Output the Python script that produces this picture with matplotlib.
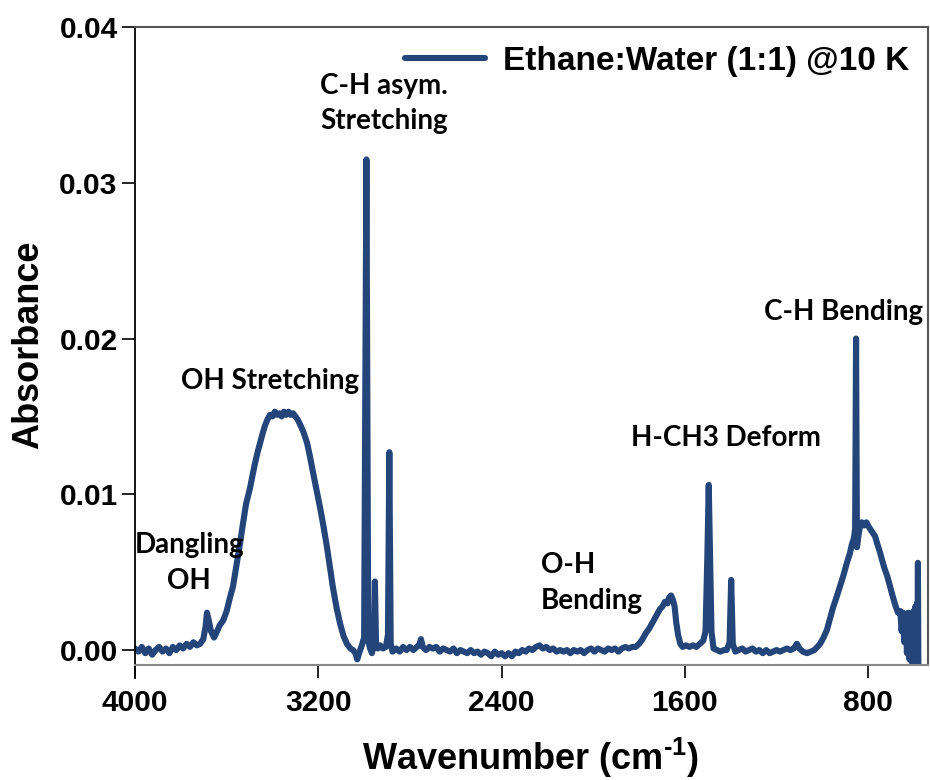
import numpy as np
import matplotlib
matplotlib.use("Agg")
import matplotlib.pyplot as plt
from matplotlib.ticker import FormatStrFormatter

plt.rcParams['font.family'] = ['Liberation Sans', 'DejaVu Sans']
plt.rcParams['mathtext.fontset'] = 'custom'
plt.rcParams['mathtext.bf'] = 'Liberation Sans:bold'
plt.rcParams['mathtext.rm'] = 'Liberation Sans:bold'

# IR spectrum of the ethane:water ice, read point by point (cm-1, absorbance)
wavenumber = [
    4000, 3985, 3970, 3955, 3940, 3925, 3910, 3895, 3880, 3865, 3850, 3835,
    3820, 3805, 3790, 3775, 3760, 3745, 3730, 3716, 3702, 3692, 3686, 3678,
    3668, 3655, 3645, 3630, 3615, 3600, 3585, 3572, 3560, 3550, 3540, 3529,
    3515, 3498, 3486, 3476, 3465, 3454, 3443, 3433, 3422, 3411, 3400, 3390,
    3380, 3370, 3360, 3350, 3340, 3330, 3320, 3310, 3300, 3290, 3280, 3265,
    3249, 3236, 3223, 3208, 3193, 3178, 3162, 3150, 3136, 3120, 3105, 3090,
    3075, 3060, 3049, 3038, 3030, 3022, 3010, 3000, 2990, 2982, 2974, 2966,
    2958, 2953, 2948, 2940, 2930, 2918, 2905, 2896, 2890, 2884, 2876, 2860,
    2845, 2830, 2815, 2800, 2785, 2770, 2760, 2752, 2744, 2730, 2715, 2700,
    2685, 2670, 2655, 2640, 2625, 2610, 2595, 2580, 2565, 2550, 2535, 2520,
    2505, 2490, 2475, 2460, 2445, 2430, 2415, 2400, 2385, 2370, 2355, 2340,
    2325, 2310, 2295, 2280, 2265, 2250, 2235, 2220, 2205, 2190, 2175, 2160,
    2145, 2130, 2115, 2100, 2085, 2070, 2055, 2040, 2025, 2010, 1995, 1980,
    1965, 1950, 1935, 1920, 1905, 1890, 1875, 1860, 1845, 1830, 1815, 1800,
    1785, 1770, 1755, 1740, 1725, 1710, 1698, 1687, 1676, 1668, 1660, 1652,
    1645, 1638, 1630, 1620, 1610, 1595, 1580, 1565, 1550, 1535, 1520, 1510,
    1502, 1496, 1490, 1484, 1475, 1460, 1445, 1430, 1418, 1405, 1398, 1391,
    1380, 1365, 1350, 1335, 1320, 1305, 1290, 1275, 1260, 1245, 1230, 1215,
    1200, 1185, 1170, 1155, 1140, 1125, 1111, 1100, 1085, 1067, 1050, 1035,
    1022, 1010, 995, 980, 967, 954, 938, 923, 908, 893, 880, 871,
    862, 857, 853, 849, 842, 835, 828, 818, 808, 797, 788, 779,
    770, 760, 749, 738, 728, 718, 705, 692, 680, 670, 660, 654,
    648, 642, 636, 631, 625, 620, 615, 609, 603, 598, 594, 590,
    587, 585, 583, 581,
]
absorbance = [
    0.0001, -0.0001, 0.0002, -0.0002, 0.0001, -0.0003, 0.0000, 0.0002, -0.0001, 0.0001, -0.0002, 0.0002,
    0.0000, 0.0003, 0.0001, 0.0004, 0.0002, 0.0005, 0.0003, 0.0004, 0.0007, 0.0015, 0.0024, 0.0019,
    0.0012, 0.0008, 0.0011, 0.0016, 0.0019, 0.0025, 0.0034, 0.0041, 0.0052, 0.0061, 0.0070, 0.0081,
    0.0094, 0.0104, 0.0113, 0.0120, 0.0127, 0.0133, 0.0139, 0.0144, 0.0148, 0.0151, 0.0150, 0.0153,
    0.0151, 0.0152, 0.0150, 0.0153, 0.0151, 0.0153, 0.0151, 0.0152, 0.0150, 0.0148, 0.0145, 0.0140,
    0.0133, 0.0124, 0.0114, 0.0103, 0.0092, 0.0080, 0.0066, 0.0054, 0.0040, 0.0027, 0.0017, 0.0009,
    0.0004, 0.0001, 0.0000, -0.0002, -0.0006, -0.0002, 0.0003, 0.0008, 0.0315, 0.0006, 0.0001, -0.0002,
    0.0003, 0.0044, 0.0004, 0.0001, 0.0003, 0.0001, 0.0002, 0.0010, 0.0127, 0.0004, -0.0001, 0.0001,
    -0.0001, 0.0002, 0.0000, 0.0002, 0.0000, 0.0002, 0.0003, 0.0007, 0.0002, 0.0000, 0.0002, 0.0001,
    0.0002, -0.0001, 0.0001, 0.0000, -0.0001, 0.0001, -0.0002, 0.0000, -0.0001, -0.0002, 0.0000, -0.0002,
    -0.0001, -0.0003, -0.0001, -0.0002, -0.0004, -0.0001, -0.0003, -0.0002, -0.0004, -0.0002, -0.0004, -0.0001,
    -0.0002, 0.0000, -0.0001, 0.0001, 0.0000, 0.0002, 0.0003, 0.0001, 0.0002, 0.0000, 0.0001, -0.0001,
    0.0000, -0.0001, 0.0000, -0.0002, 0.0000, -0.0001, 0.0000, -0.0002, 0.0000, 0.0001, -0.0001, 0.0001,
    0.0000, -0.0001, 0.0001, 0.0000, 0.0001, -0.0001, 0.0001, 0.0002, 0.0001, 0.0002, 0.0002, 0.0004,
    0.0007, 0.0011, 0.0014, 0.0018, 0.0022, 0.0026, 0.0028, 0.0031, 0.0030, 0.0034, 0.0035, 0.0032,
    0.0028, 0.0018, 0.0010, 0.0004, 0.0002, 0.0003, 0.0002, 0.0003, 0.0002, 0.0004, 0.0006, 0.0012,
    0.0060, 0.0106, 0.0060, 0.0012, 0.0001, 0.0000, -0.0001, 0.0000, 0.0000, 0.0005, 0.0045, 0.0004,
    -0.0001, 0.0000, 0.0001, -0.0001, 0.0000, 0.0001, -0.0001, 0.0000, -0.0002, 0.0000, -0.0002, -0.0001,
    0.0000, -0.0001, 0.0000, 0.0001, 0.0000, 0.0001, 0.0004, 0.0001, -0.0001, -0.0002, -0.0001, 0.0000,
    0.0002, 0.0004, 0.0008, 0.0013, 0.0020, 0.0027, 0.0034, 0.0041, 0.0048, 0.0056, 0.0062, 0.0068,
    0.0072, 0.0078, 0.0200, 0.0066, 0.0074, 0.0080, 0.0082, 0.0080, 0.0082, 0.0079, 0.0077, 0.0075,
    0.0073, 0.0068, 0.0063, 0.0057, 0.0052, 0.0048, 0.0041, 0.0034, 0.0028, 0.0024, 0.0025, 0.0012,
    0.0024, 0.0005, 0.0023, -0.0002, 0.0024, -0.0006, 0.0022, -0.0008, 0.0025, -0.0010, 0.0028, -0.0012,
    0.0030, -0.0010, 0.0056, -0.0012,
]

series_label = "Ethane:Water (1:1) @10 K"
x_ticks = [4000, 3200, 2400, 1600, 800]
y_ticks = [0.00, 0.01, 0.02, 0.03, 0.04]

# band assignments: text, wavenumber, absorbance, alignment
band_labels = ["C-H asym.\nStretching", "OH Stretching", "Dangling\nOH",
               "O-H\nBending", "H-CH3 Deform", "C-H Bending"]
band_x = [2913, 3411, 3764, 2228, 1421, 906]
band_y = [0.0351, 0.0173, 0.0056, 0.0043, 0.0136, 0.0217]
band_ha = ["center", "center", "center", "left", "center", "center"]

line_color = "#23457A"

fig = plt.figure(figsize=(9.3, 7.8), dpi=100)
ax = fig.add_axes([135 / 930, 115 / 780, 793 / 930, 638 / 780])

ax.plot(wavenumber, absorbance, color=line_color, lw=4.4,
        solid_joinstyle="round", solid_capstyle="round", label=series_label)

ax.set_xlim(4000, 539)
ax.set_ylim(-0.00096, 0.04)
ax.set_xticks(x_ticks)
ax.set_yticks(y_ticks)
ax.yaxis.set_major_formatter(FormatStrFormatter("%.2f"))

for lab, xx, yy, ha in zip(band_labels, band_x, band_y, band_ha):
    ax.text(xx, yy, lab, ha=ha, va="center", fontsize=20, family="Lato",
            fontweight="bold", linespacing=1.45)

ax.tick_params(direction="out", length=9.5, width=1.2, labelsize=21.5, pad=3)
ax.tick_params(axis="x", pad=8)
for t in ax.get_xticklabels() + ax.get_yticklabels():
    t.set_fontweight("bold")

ax.spines["left"].set_color("black")
ax.spines["left"].set_linewidth(1.3)
ax.spines["left"].set_bounds(-0.0018, 0.04)
ax.spines["top"].set_color("#555555")
ax.spines["right"].set_color("#555555")
ax.spines["bottom"].set_color("#888888")
for s in ["top", "right", "bottom"]:
    ax.spines[s].set_linewidth(1.5)

leg = ax.legend(loc="center left", bbox_to_anchor=(0.3405, 0.9467), frameon=False,
                borderpad=0, borderaxespad=0, handlelength=2.4, handletextpad=0.55,
                prop={"size": 24, "weight": "bold"})

fig.text(29 / 930, 1 - 345 / 780, "Absorbance", rotation=90, ha="center",
         va="center", fontsize=26, fontweight="bold")
fig.text(531 / 930, 1 - 758 / 780, r"Wavenumber (cm$^{\text{-1}}$)", ha="center",
         va="center", fontsize=26, fontweight="bold")

fig.savefig("out.png", dpi=100)
